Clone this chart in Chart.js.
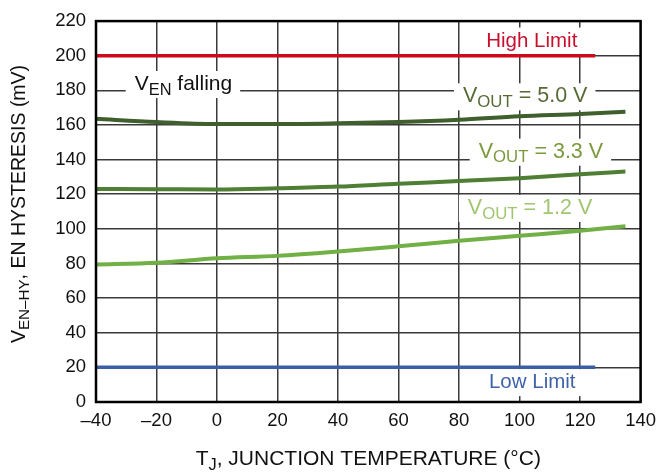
<!DOCTYPE html>
<html>
<head>
<meta charset="utf-8">
<script src="https://cdn.jsdelivr.net/npm/chart.js@4"></script>
<style>
  html, body { margin: 0; padding: 0; background: #fff; }
  #wrap { width: 664px; height: 473px; }
</style>
</head>
<body>
<div id="wrap"><canvas id="chart" width="664" height="473"></canvas></div>
<script>
// Junction temperature (°C)
const temps = [-40, -20, 0, 20, 40, 60, 80, 100, 120, 135];
// EN hysteresis (mV) per output voltage
const vout50 = [163.6, 161.7, 160.6, 160.6, 161.0, 161.7, 163.0, 165.0, 166.3, 167.6];
const vout33 = [123.0, 122.9, 122.7, 123.4, 124.4, 126.1, 127.6, 129.3, 131.6, 133.1];
const vout12 = [79.4, 80.4, 83.0, 84.4, 86.9, 89.9, 93.1, 96.0, 98.9, 101.5];
// spec limits
const limitTemps = [-40, 125];
const highLimit = [200, 200];
const lowLimit = [20, 20];

const FONT = '"Liberation Sans", Arial, Helvetica, sans-serif';

const pts = (xs, ys) => xs.map((x, i) => ({ x: x, y: ys[i] }));

// text made of [text, isSub] parts
function richWidth(ctx, parts, size) {
  let w = 0;
  parts.forEach(([t, sub]) => {
    ctx.font = (sub ? size * 0.78 : size) + 'px ' + FONT;
    w += ctx.measureText(t).width;
  });
  return w;
}
function drawRich(ctx, parts, x, y, size, color) {
  ctx.fillStyle = color;
  ctx.textBaseline = 'alphabetic';
  ctx.textAlign = 'left';
  let cx = x;
  parts.forEach(([t, sub]) => {
    ctx.font = (sub ? size * 0.78 : size) + 'px ' + FONT;
    ctx.fillText(t, cx, sub ? y + size * 0.22 : y);
    cx += ctx.measureText(t).width;
  });
}

// curve labels, anchored in data units
const notes = [
  { parts: [['High Limit']], t: 119.1, v: 205.3, align: 'right', size: 20.5, color: '#c8102e' },
  { parts: [['Low Limit']], t: 118.5, v: 8, align: 'right', size: 20.5, color: '#3f63a8' },
  { parts: [['V'], ['EN', 1], [' falling']], t: -27.2, v: 180.2, align: 'left', size: 21, color: '#111' },
  { parts: [['V'], ['OUT', 1], [' = 5.0 V']], t: 81.3, v: 173.1, align: 'left', size: 21.5, color: '#566a35' },
  { parts: [['V'], ['OUT', 1], [' = 3.3 V']], t: 86.5, v: 141.1, align: 'left', size: 21.5, color: '#7b9a3d' },
  { parts: [['V'], ['OUT', 1], [' = 1.2 V']], t: 82.9, v: 108.6, align: 'left', size: 21.5, color: '#a0c670' }
];

const notesPlugin = {
  id: 'notes',
  beforeDatasetsDraw(chart) {
    const ctx = chart.ctx, xs = chart.scales.x, ys = chart.scales.y;
    ctx.save();
    notes.forEach(n => {
      const w = richWidth(ctx, n.parts, n.size);
      let x = xs.getPixelForValue(n.t);
      const y = ys.getPixelForValue(n.v);
      if (n.align === 'right') x -= w;
      ctx.fillStyle = '#fff';
      ctx.fillRect(x - 9, y - 19, w + 17, 27);
      drawRich(ctx, n.parts, x, y, n.size, n.color);
    });
    ctx.restore();
  },
  afterDraw(chart) {
    const ctx = chart.ctx, a = chart.chartArea;
    ctx.save();
    ctx.strokeStyle = '#000';
    ctx.lineWidth = 2.5;
    ctx.strokeRect(a.left, a.top, a.right - a.left, a.bottom - a.top);
    // axis titles
    const xt = [['T'], ['J', 1], [', JUNCTION TEMPERATURE (°C)']];
    const xw = richWidth(ctx, xt, 21);
    drawRich(ctx, xt, (a.left + a.right) / 2 - xw / 2, 465, 21, '#111');
    const yt = [['V'], ['EN\u2013HY', 1], [', EN HYSTERESIS (mV)']];
    const yw = richWidth(ctx, yt, 19.5);
    ctx.translate(25, 204);
    ctx.rotate(-Math.PI / 2);
    drawRich(ctx, yt, -yw / 2, 0, 19.5, '#111');
    ctx.restore();
  }
};

const line = (data, color, width) => ({
  data: data,
  borderColor: color,
  borderWidth: width,
  pointRadius: 0,
  cubicInterpolationMode: 'monotone',
  fill: false
});

new Chart(document.getElementById('chart'), {
  type: 'line',
  data: {
    datasets: [
      line(pts(limitTemps, highLimit), '#cc0a1a', 3.5),
      line(pts(limitTemps, lowLimit), '#3b5ea6', 3.5),
      line(pts(temps, vout50), '#3f5f2c', 4),
      line(pts(temps, vout33), '#4f7e35', 4),
      line(pts(temps, vout12), '#70b044', 4)
    ]
  },
  options: {
    responsive: false,
    animation: false,
    layout: { padding: { left: 0, right: 22, top: 18, bottom: 0 } },
    plugins: { legend: { display: false }, tooltip: { enabled: false } },
    scales: {
      x: {
        type: 'linear',
        min: -40, max: 140,
        afterFit: s => { s.height = 71; },
        border: { display: false },
        grid: { color: '#3a3a3a', lineWidth: 1.5, drawTicks: false },
        ticks: {
          stepSize: 20, padding: 8, color: '#111',
          font: { family: FONT, size: 18.5 },
          callback: v => String(v).replace('-', '\u2013')
        }
      },
      y: {
        min: 0, max: 220,
        afterFit: s => { s.width = 96; },
        border: { display: false },
        grid: { color: '#3a3a3a', lineWidth: 1.5, drawTicks: false },
        ticks: {
          stepSize: 20, padding: 10, color: '#111',
          font: { family: FONT, size: 18.5 }
        }
      }
    }
  },
  plugins: [notesPlugin]
});
</script>
</body>
</html>
